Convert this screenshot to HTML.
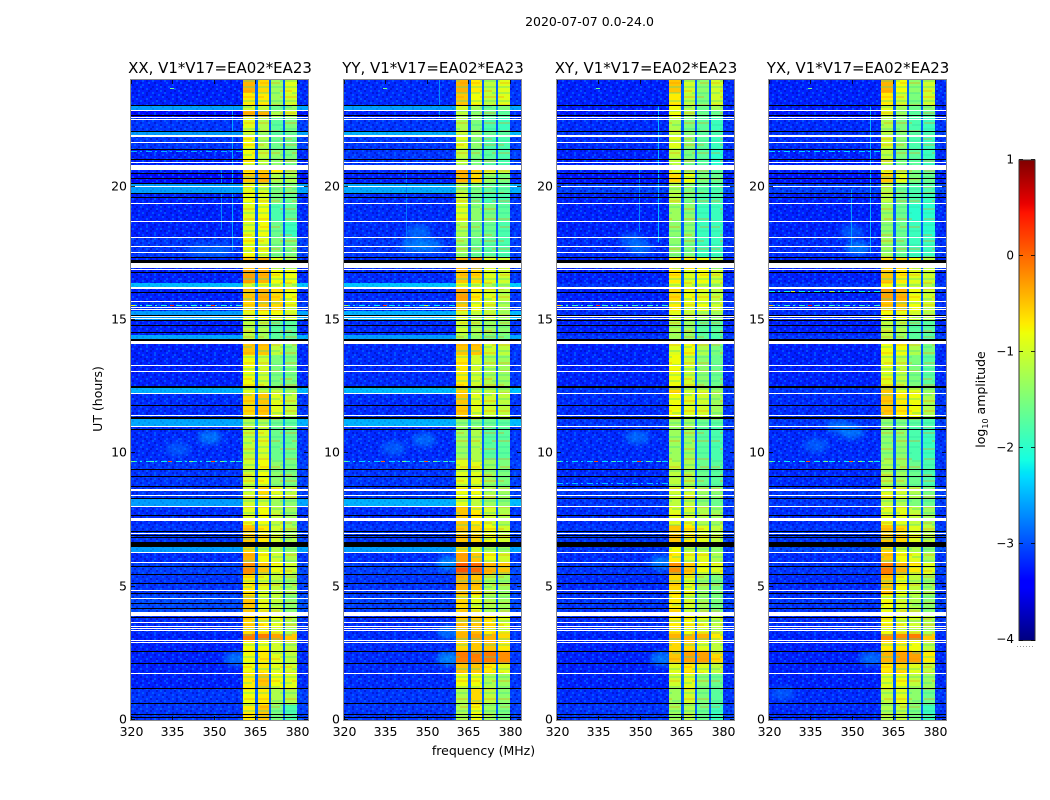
<!DOCTYPE html>
<html lang="en">
<head>
<meta charset="utf-8">
<title>2020-07-07 0.0-24.0</title>
<style>
html,body{margin:0;padding:0;background:#fff;}
svg{display:block;}
text{font-family:"DejaVu Sans","Liberation Sans",sans-serif;fill:#000;}
</style>
</head>
<body>
<svg id="chart" xmlns="http://www.w3.org/2000/svg" width="1050" height="800" viewBox="0 0 1050 800">
  <rect x="0" y="0" width="1050" height="800" fill="#fff"/>
  <text x="589.5" y="26" font-size="12.5" text-anchor="middle">2020-07-07 0.0-24.0</text>
  <text x="0" y="0" font-size="12.5" text-anchor="middle" transform="translate(102 399) rotate(-90)">UT (hours)</text>
  <text x="483.5" y="755" font-size="12.5" text-anchor="middle">frequency (MHz)</text>
  <text x="0" y="0" font-size="12.5" text-anchor="middle" transform="translate(985 399.5) rotate(-90)">log<tspan font-size="8" dy="3">10</tspan><tspan dy="-3"> amplitude</tspan></text>
  <defs>
    <filter id="blob-blur" x="-60%" y="-60%" width="220%" height="220%"><feGaussianBlur stdDeviation="3"/></filter>
  </defs>
</svg>
<script>
// ---------- data: UT boundaries of the time segments (hours) ----------
const utEdges = [24,23.5125,23.025,22.8375,22.575,22.05,21.9375,21.4125,20.8125,20.475,20.1,19.725,19.35,18.675,18.075,17.325,16.9125,16.3875,16.2375,15.675,15.3375,15,14.4375,14.2125,13.6875,12.525,12.2625,11.325,10.9875,9.75,8.7375,8.2875,7.9875,7.3125,6.4875,6.3,5.8875,5.4375,4.6875,4.05,3.225,3,2.55,2.1375,1.725,1.1625,0.5625,0];
// frequency channel boundaries (MHz) and what each channel reads from
const channelEdges = [320,360.5,365,365.8,369.8,370.6,375,375.7,380,384];
const channelKinds = ['bg',0,'gap',1,'gap',2,'gap',3,'out'];
// tick labels
const xTicks = [320,335,350,365,380];
const yTicks = [0,5,10,15,20];
const colorTicks = [1,0,-1,-2,-3,-4];
const polarisations = ['XX','YY','XY','YX'];
const gapLevel = [-2.9,-2.9,-2.9,-2.9];

// log10 amplitude outside the band, one per time segment
const xxBackground = [-3.22,-3.22,-2.6,-3.32,-3.12,-2.6,-3.12,-3.22,-3.22,-3.32,-2.6,-3.22,-3.22,-3.22,-3.12,-3.22,-3.22,-2.45,-3.22,-3.12,-2.6,-3.22,-2.55,-3.22,-3.22,-2.5,-3.17,-2.55,-3.17,-3.12,-3.12,-2.6,-3.17,-3.12,-2.6,-3.17,-3.07,-3.12,-3.02,-3.17,-3.22,-3.22,-3.22,-3.22,-3.22,-3.12,-3.12];
const yyBackground = [-3.17,-3.17,-2.6,-3.22,-3.12,-2.5,-3.12,-3.12,-3.17,-3.22,-2.55,-3.17,-3.17,-3.17,-3.12,-3.17,-3.17,-2.4,-3.17,-3.12,-2.5,-3.17,-2.6,-3.17,-3.17,-2.45,-3.17,-2.5,-3.17,-3.12,-3.12,-2.5,-3.17,-3.12,-2.6,-3.17,-3.07,-3.12,-3.07,-3.17,-3.17,-3.17,-3.17,-3.17,-3.17,-3.12,-3.12];
const xyBackground = [-3.22,-3.22,-3.22,-3.27,-3.17,-3.12,-3.17,-3.22,-3.22,-3.27,-3.07,-3.22,-3.22,-3.22,-3.17,-3.22,-3.22,-3.12,-3.22,-3.17,-3.17,-3.22,-3.12,-3.22,-3.22,-3.12,-3.17,-3.12,-3.17,-3.17,-3.12,-3.12,-3.17,-3.12,-3.12,-3.17,-3.12,-3.17,-3.12,-3.17,-3.22,-3.22,-3.22,-3.22,-3.22,-3.17,-3.12];
const yxBackground = [-3.22,-3.22,-3.22,-3.27,-3.17,-3.12,-3.17,-3.22,-3.22,-3.27,-3.07,-3.22,-3.22,-3.22,-3.17,-3.22,-3.22,-3.12,-3.22,-3.17,-3.17,-3.22,-3.12,-3.22,-3.22,-3.12,-3.17,-3.12,-3.17,-3.17,-3.12,-3.12,-3.17,-3.12,-3.02,-3.17,-3.12,-3.17,-3.12,-3.17,-3.22,-3.22,-3.22,-3.22,-3.22,-3.17,-3.17];

// log10 amplitude in the four sub-bands, one row per time segment
const xxBands = [
[-0.4,-0.6,-1.3,-0.9],[-0.7,-0.7,-1.3,-1.0],[-1.0,-1.1,-1.6,-1.4],[-0.4,-0.4,-1.2,-1.0],[-0.9,-1.2,-1.7,-1.5],[-1.0,-1.3,-1.7,-1.6],[-0.8,-1.2,-1.6,-1.6],[-0.8,-1.1,-1.4,-1.5],
[-0.7,-0.6,-0.7,-1.3],[-0.5,-0.4,-1.2,-1.2],[-0.9,-1.0,-1.5,-1.5],[-0.8,-0.9,-1.5,-1.6],[-0.9,-0.8,-1.8,-1.7],[-0.9,-0.8,-1.6,-1.9],[-0.8,-0.9,-1.5,-1.5],[-0.5,-0.4,-0.9,-1.2],
[-0.3,-0.4,-0.8,-0.8],[-1.0,-0.8,-1.0,-1.1],[-0.5,-0.4,-0.6,-0.8],[-0.6,-0.5,-0.6,-0.9],[-0.9,-0.8,-0.8,-1.0],[-1.1,-1.2,-1.7,-1.7],[-1.2,-1.3,-1.7,-1.7],[-0.5,-0.5,-1.1,-1.4],
[-0.8,-1.0,-1.5,-1.5],[-0.9,-1.1,-1.1,-1.3],[-0.6,-0.5,-0.9,-1.1],[-1.2,-1.2,-1.6,-1.7],[-1.1,-0.95,-1.6,-1.6],[-1.0,-0.8,-1.4,-1.5],[-1.0,-0.6,-0.9,-1.1],[-1.0,-1.0,-1.3,-1.4],
[-0.9,-0.8,-1.1,-1.3],[-0.5,-0.7,-1.0,-1.2],[-0.6,-1.0,-1.2,-1.4],[-0.4,-0.8,-1.0,-1.2],[-0.2,-0.5,-0.8,-1.0],[-0.7,-0.9,-1.1,-1.3],[-0.5,-0.9,-1.1,-1.4],[-0.6,-0.7,-0.9,-1.2],
[-0.1,-0.1,-0.3,-0.5],[-0.8,-0.8,-1.0,-1.1],[-0.8,-0.7,-0.9,-1.1],[-0.8,-0.7,-0.9,-1.0],[-0.7,-0.5,-0.8,-0.9],[-0.8,-0.7,-1.2,-1.2],[-0.7,-0.5,-1.5,-1.8]];
const yyBands = [
[-0.4,-0.7,-1.1,-0.9],[-0.5,-0.8,-1.1,-0.9],[-1.0,-1.3,-1.6,-1.5],[-1.1,-1.4,-1.6,-1.7],[-1.2,-1.5,-1.8,-1.9],[-1.0,-1.3,-1.6,-1.7],[-0.9,-1.4,-1.8,-1.8],[-1.1,-1.5,-1.7,-1.8],
[-0.4,-0.5,-1.0,-1.1],[-0.4,-0.6,-1.3,-1.5],[-1.2,-1.5,-1.7,-1.7],[-1.0,-1.6,-1.8,-1.8],[-0.9,-1.4,-1.5,-1.7],[-1.2,-1.5,-1.6,-1.8],[-1.3,-1.6,-1.7,-1.8],[-0.4,-0.3,-0.9,-1.0],
[-0.5,-0.6,-0.9,-1.0],[-0.8,-1.0,-1.2,-1.2],[-0.3,-0.7,-0.9,-1.1],[-0.5,-0.8,-1.0,-1.2],[-1.0,-1.1,-1.1,-1.3],[-1.0,-1.2,-1.3,-1.4],[-1.3,-1.4,-1.6,-1.6],[-0.5,-0.5,-1.0,-1.1],
[-0.7,-1.0,-1.2,-1.3],[-0.6,-1.1,-1.1,-1.2],[-0.5,-0.9,-1.0,-1.1],[-1.4,-1.5,-1.6,-1.7],[-1.3,-1.2,-1.7,-1.7],[-0.9,-0.9,-1.3,-1.5],[-0.8,-0.8,-1.2,-1.3],[-0.9,-1.1,-1.3,-1.4],
[-0.5,-0.7,-1.0,-1.2],[-0.5,-0.6,-0.8,-1.0],[-0.6,-1.0,-1.2,-1.3],[-0.3,-0.5,-0.8,-1.0],[0.1,0.0,-0.4,-0.5],[-0.4,-0.5,-1.2,-1.3],[-0.6,-0.9,-1.2,-1.3],[-0.5,-0.5,-0.7,-0.9],
[-0.4,-0.3,-0.4,-0.6],[-0.6,-0.5,-0.5,-0.7],[-0.1,-0.1,-0.1,-0.2],[-0.5,-0.5,-0.7,-0.9],[-0.8,-0.8,-1.2,-1.3],[-1.2,-0.6,-1.1,-1.4],[-1.2,-0.8,-1.3,-1.5]];
const xyBands = [
[-0.5,-1.0,-1.4,-1.0],[-0.7,-1.1,-1.5,-1.0],[-0.8,-1.2,-1.6,-1.3],[-0.8,-1.2,-1.6,-1.6],[-1.2,-1.5,-1.7,-1.9],[-1.0,-1.4,-1.7,-1.8],[-0.9,-1.4,-1.7,-1.9],[-1.1,-1.5,-1.7,-2.0],
[-0.9,-1.4,-1.6,-1.7],[-0.6,-0.8,-1.5,-1.6],[-1.2,-1.5,-1.7,-1.8],[-1.1,-1.5,-1.8,-1.8],[-1.3,-1.4,-1.9,-1.9],[-1.4,-1.4,-1.9,-1.9],[-1.4,-1.5,-1.9,-1.9],[-0.7,-0.7,-0.8,-1.2],
[-0.7,-0.9,-0.8,-1.0],[-0.9,-1.0,-1.0,-1.2],[-0.6,-0.8,-0.9,-1.1],[-0.7,-0.9,-0.8,-1.0],[-0.9,-1.1,-1.3,-1.3],[-1.2,-1.3,-1.7,-1.7],[-1.3,-1.4,-1.7,-1.8],[-0.9,-0.8,-1.2,-1.5],
[-0.8,-1.0,-1.4,-1.6],[-0.6,-1.0,-1.0,-1.3],[-0.8,-0.9,-1.0,-1.3],[-1.3,-1.3,-1.6,-1.7],[-1.3,-1.3,-1.7,-1.8],[-1.1,-1.2,-1.6,-1.7],[-1.0,-1.0,-1.3,-1.4],[-1.1,-1.1,-1.4,-1.6],
[-0.9,-1.0,-1.2,-1.3],[-0.5,-0.7,-0.9,-1.1],[-0.8,-1.1,-1.2,-1.4],[-0.7,-0.9,-0.9,-1.2],[-0.2,-0.5,-0.8,-0.9],[-0.6,-0.9,-1.3,-1.5],[-0.7,-1.0,-1.3,-1.5],[-0.7,-0.8,-0.9,-1.1],
[-0.4,-0.4,-0.4,-0.7],[-0.6,-0.6,-0.9,-1.1],[-0.5,-0.3,-0.3,-0.6],[-0.9,-0.7,-0.9,-1.1],[-1.0,-0.9,-1.4,-1.6],[-1.3,-1.0,-1.5,-1.7],[-1.3,-1.2,-1.6,-1.9]];
const yxBands = [
[-0.4,-0.8,-1.4,-1.0],[-0.7,-1.0,-1.5,-1.0],[-0.9,-1.3,-1.6,-1.4],[-0.9,-1.3,-1.7,-1.7],[-1.2,-1.5,-1.8,-1.9],[-1.1,-1.4,-1.7,-1.8],[-1.0,-1.4,-1.8,-1.9],[-1.1,-1.5,-1.7,-1.9],
[-0.9,-1.2,-1.5,-1.7],[-0.5,-0.9,-1.5,-1.6],[-1.2,-1.6,-1.8,-1.8],[-1.1,-1.6,-1.8,-1.9],[-1.3,-1.6,-2.0,-2.0],[-1.4,-1.6,-1.9,-2.0],[-1.3,-1.6,-1.9,-1.9],[-0.6,-0.6,-0.8,-1.1],
[-0.5,-0.7,-0.9,-1.0],[-0.8,-0.9,-1.0,-1.2],[-0.3,-0.4,-0.8,-1.0],[-0.5,-0.5,-0.8,-1.0],[-0.8,-0.9,-1.0,-1.2],[-1.1,-1.2,-1.7,-1.7],[-1.2,-1.4,-1.7,-1.8],[-0.8,-0.8,-1.2,-1.5],
[-0.9,-1.1,-1.5,-1.7],[-0.5,-0.9,-0.9,-1.3],[-0.5,-0.7,-0.8,-1.2],[-1.4,-1.5,-1.7,-1.8],[-1.4,-1.4,-1.8,-1.9],[-1.2,-1.3,-1.6,-1.8],[-0.9,-1.0,-1.2,-1.5],[-1.1,-1.2,-1.5,-1.6],
[-0.9,-0.9,-1.1,-1.3],[-0.5,-0.6,-0.9,-1.1],[-0.6,-1.0,-1.2,-1.4],[-0.5,-0.8,-0.9,-1.2],[-0.1,-0.4,-0.7,-0.9],[-0.5,-0.8,-1.1,-1.3],[-0.8,-1.0,-1.2,-1.4],[-0.8,-0.9,-1.0,-1.2],
[-0.2,-0.2,-0.1,-0.5],[-0.7,-0.7,-0.8,-1.1],[-0.4,-0.3,-0.3,-0.7],[-0.7,-0.6,-0.9,-1.1],[-0.9,-0.8,-1.1,-1.3],[-1.1,-0.9,-1.4,-1.6],[-1.2,-1.1,-1.5,-1.9]];
const backgroundSeries = [xxBackground,yyBackground,xyBackground,yxBackground];
const bandSeries = [xxBands,yyBands,xyBands,yxBands];

// flagged integrations: [UT at the upper edge, duration in hours]
const maskedRows = [[22.875,0.0375],[22.6125,0.0375],[22.5375,0.0375],[21.9375,0.075],[21.675,0.0375],[20.925,0.0375],[20.8125,0.1875],[20.025,0.0375],[19.3875,0.0375],[18.7125,0.0375],[18.1125,0.0375],[17.775,0.0375],[17.55,0.0375],[17.1375,0.1875],[16.9125,0.0375],[16.2375,0.075],[15.7125,0.0375],[15.4875,0.0375],[15.4125,0.0375],[15.15,0.0375],[15.075,0.0375],[14.2125,0.1125],[13.3125,0.0375],[13.0875,0.0375],[12.2625,0.0375],[11.4375,0.0375],[11.025,0.0375],[8.6625,0.075],[8.4375,0.0375],[8.025,0.0375],[7.575,0.1125],[7.0125,0.0375],[6.3,0.0375],[5.925,0.0375],[4.875,0.0375],[4.575,0.0375],[4.05,0.15],[3.675,0.0375],[3.525,0.0375],[3.45,0.0375],[3.375,0.0375],[3.0,0.0375],[2.925,0.0375],[1.7625,0.0375]];
const zeroRows = [[23.0625,0.0375],[22.6875,0.0375],[22.0875,0.0375],[21.4125,0.0375],[21.0375,0.0375],[20.5125,0.0375],[20.325,0.0375],[20.1375,0.0375],[19.7625,0.0375],[19.6125,0.0375],[17.3625,0.0375],[17.25,0.1125],[16.8,0.0375],[16.05,0.0375],[15.1875,0.0375],[15,0.0375],[14.8125,0.0375],[14.55,0.0375],[14.2875,0.075],[12.525,0.075],[11.8125,0.0375],[11.3625,0.075],[10.9125,0.0375],[9.4125,0.0375],[9.15,0.0375],[8.775,0.0375],[8.325,0.0375],[7.6875,0.0375],[7.0875,0.0375],[6.9375,0.0375],[6.8625,0.0375],[6.675,0.1875],[5.775,0.0375],[5.475,0.0375],[5.1375,0.0375],[4.7625,0.0375],[4.3875,0.0375],[4.2,0.0375],[3.8625,0.0375],[2.5875,0.0375],[2.1375,0.0375],[1.2,0.056],[0.6375,0.0375],[0.225,0.0375],[0.1125,0.0375]];

// diffuse patches in the background: panel index, UT, MHz, log10 amplitude
const blobPanel = [0,0,0,0,0,1,1,1,1,1,1,1,1,2,2,2,2,2,3,3,3,3,3,3,3];
const blobUT = [10.6,10.15,17.6,17.6,2.3,10.5,10.2,17.8,17.8,18.3,2.3,3.3,5.9,10.6,18.0,17.7,2.3,5.9,10.8,11.0,10.3,17.7,18.3,2.3,1.0];
const blobFreq = [348.5,337,345,352,358,349,338,345,351,347,358,358,358,349,347,350,358,358,350,345,337,352,350,357,325];
const blobLevel = [-2.55,-2.8,-2.8,-2.75,-2.55,-2.65,-2.75,-2.55,-2.55,-2.65,-2.4,-2.6,-2.4,-2.65,-2.75,-2.65,-2.5,-2.5,-2.55,-2.65,-2.75,-2.5,-2.75,-2.6,-2.8];

// low-level dashed interference rows spanning the background: panel index, UT, log10 amplitude
const streakPanel = [0,1,2,3,0,1,2,3,0,3,2,3];
const streakUT = [9.71,9.71,9.71,9.71,15.55,15.55,15.55,15.55,21.35,21.35,8.9,16.1];
const streakLevel = [-2.2,-2.3,-2.3,-2.2,-2.0,-2.2,-1.9,-1.9,-2.5,-2.3,-2.4,-2.2];

// narrow interference hits: panel index, UT, MHz, log10 amplitude
const rfiPanel = [0,0,0,0,0,0,0,1,1,1,1,1,1,2,2,2,2,2,2,3,3,3,3,3,3,0,0,0,1,1,1,2,2,3,3,3,3,0,1,2,3];
const rfiUT = [9.71,9.71,9.71,9.71,9.71,9.71,9.71,9.71,9.71,9.71,9.71,9.71,9.71,9.71,9.71,9.71,9.71,9.71,9.71,9.71,9.71,9.71,9.71,9.71,9.71,15.55,15.55,15.55,15.55,15.55,15.55,15.55,15.55,15.55,15.55,16.1,16.1,23.7,23.7,23.7,23.7];
const rfiFreq = [320,327,333.5,341,349,352,356,320,333.5,341,349,352,356,320,333.5,340,349,352,356,320,333.5,340,349,352,356,320,334,349,320,334,349,320,334,320,334,328,342,334,334,334,334];
const rfiLevel = [-1.6,-1.9,0.1,-1.5,0.2,-1.6,-1.8,-1.7,0.0,-1.6,0.1,-1.6,-1.8,-1.7,0.1,-1.8,0.2,-1.7,-1.8,-1.6,0.1,-1.5,0.1,-1.4,-1.6,-0.8,0.3,0.3,-1.2,0.2,-1.0,-0.5,0.3,-0.4,0.4,-1.0,-1.2,-1.6,-1.6,-1.7,-1.6];

// short vertical interference tracks: panel index, MHz, UT top, UT bottom, log10 amplitude
const trackPanel = [0,0,1,2,2,3,3,1];
const trackFreq = [356.5,352.5,354.5,356.5,349.5,356.5,349.5,342.5];
const trackTop = [23,20.6,24,23,20.9,23,19.9,20.9];
const trackBottom = [17.6,18.4,22.6,17.9,18.3,17.5,17.7,17.5];
const trackLevel = [-2.55,-2.7,-2.7,-2.45,-2.7,-2.5,-2.6,-2.8];

// hand-laid texture tile for the receiver noise in the background channels
const noiseTile = [
"..d.l..d...l.d..l...d.l..d..l.",
"l...d...l.d...l..d.....l.d...d",
".d.l..d....l..d...l.d.....l...",
"...d.l..d.l.....d...l.d.l...d.",
"d.l....d...d.l.d..l......d.l..",
"..d..l...l....d...d.l.d....d.l",
"l.....d.d..l.d..l.....l..d....",
".d.l.....l...d...d.l.d....l.d.",
"...d..l.d..d...l.....l.d.....l",
"l.d.....l....l.d..d.....d.l.d.",
"..l.d.d...l.d.....l.d.l.....d.",
"d....l...d....d.l....d...l.d..",
".l.d...l...d.l...d.l...d....l.",
"...l.d...d...l.d.....d..l.d...",
"d.....l.d.l.....d.l.l.....d.l.",
".l.d.d.....d.l.d....d.d.l.....",
"....l..d.l...d...l.....l..d.d.",
"d.l.....d..l...d.l.d.l.....l..",
"..d.l.d...d..l.......d..d.l..d",
"l.....l.d...d..d.l.d...l.....l"];

// hand-laid streak tile for fine time structure inside the band: o warmer, g cooler
const streakTile = [
"oooooooooooo........",
"....................",
"gggggggggggggggggggg",
"....................",
"......oooooooooooooo",
"gggggg..............",
"....................",
"........gggggggggggg",
"oooooooo............",
"....................",
"gggggggggggggggg....",
"....................",
"....................",
"..oooooooooooooo....",
"gg..............gggg",
"....................",
"gggggggggg..........",
"..........oooooooooo",
"....................",
"gggggggggggggggggggg",
"....................",
"oooooo..............",
"......gggggggggggggg",
"...................."];

// ---------- scales and layout ----------
const NS = 'http://www.w3.org/2000/svg';
const svg = document.getElementById('chart');
const defs = svg.querySelector('defs');
const panelLeft = [131,344,557,769];
const panelWidth = 177, panelTop = 80, panelBottom = 720;
const freqMin = 320, freqMax = 384, utMin = 0, utMax = 24;
const cbLeft = 1019, cbRight = 1035, cbTop = 160, cbBottom = 640.5, vMin = -4, vMax = 1;

function xScale(panel, f){ return panelLeft[panel] + (f - freqMin) / (freqMax - freqMin) * panelWidth; }
function yScale(ut){ return panelBottom - (ut - utMin) / (utMax - utMin) * (panelBottom - panelTop); }
function cbScale(v){ return cbBottom - (v - vMin) / (vMax - vMin) * (cbBottom - cbTop); }
function interp(stops, t){
  for(let i = 1; i < stops.length; i++){
    if(t <= stops[i][0]){
      const a = stops[i-1], b = stops[i];
      return a[1] + (b[1]-a[1]) * (t-a[0]) / (b[0]-a[0]);
    }
  }
  return stops[stops.length-1][1];
}
const jetR = [[0,0],[0.35,0],[0.66,1],[0.89,1],[1,0.5]];
const jetG = [[0,0],[0.125,0],[0.375,1],[0.64,1],[0.91,0],[1,0]];
const jetB = [[0,0.5],[0.11,1],[0.34,1],[0.65,0],[1,0]];
function colorOf(v){
  const t = Math.max(0, Math.min(1, (v - vMin) / (vMax - vMin)));
  return 'rgb(' + Math.round(interp(jetR,t)*255) + ',' + Math.round(interp(jetG,t)*255) + ',' + Math.round(interp(jetB,t)*255) + ')';
}
function make(tag, parent, props){
  const el = document.createElementNS(NS, tag);
  for(const k in props){ el.setAttribute(k, props[k]); }
  parent.appendChild(el);
  return el;
}

// ---------- texture patterns ----------
const noisePattern = make('pattern', defs, {id:'noise', x:0, y:0, width:noiseTile[0].length*2, height:noiseTile.length*2, patternUnits:'userSpaceOnUse'});
noiseTile.forEach((row, r) => {
  row.split('').forEach((ch, c) => {
    if(ch === '.') return;
    make('rect', noisePattern, {x:c*2, y:r*2, width:2, height:2, fill: ch === 'd' ? '#0000a0' : '#0078ff', 'fill-opacity': ch === 'd' ? 0.42 : 0.55});
  });
});
const streakPattern = make('pattern', defs, {id:'band-streaks', x:0, y:0, width:streakTile[0].length*2, height:streakTile.length*2, patternUnits:'userSpaceOnUse'});
streakTile.forEach((row, r) => {
  row.split('').forEach((ch, c) => {
    if(ch === '.') return;
    make('rect', streakPattern, {x:c*2, y:r*2, width:2, height:2, fill: ch === 'o' ? '#ff8c00' : '#30e0a0', 'fill-opacity': ch === 'o' ? 0.28 : 0.3});
  });
});

// ---------- panels ----------
polarisations.forEach((pol, p) => {
  const key = pol.toLowerCase();
  const left = panelLeft[p];

  const panel = make('g', svg, {});
  
  

  const clip = make('clipPath', defs, {id:'bg-clip-' + p});
  make('rect', clip, {x:xScale(p,320), y:panelTop, width:xScale(p,360.5)-xScale(p,320), height:panelBottom-panelTop});

  // heatmap cells
  const cells = make('g', panel, {'shape-rendering':'crispEdges'});
  
  
  for(let s = 0; s < utEdges.length - 1; s++){
    const y0 = Math.round(yScale(utEdges[s])), y1 = Math.round(yScale(utEdges[s+1]));
    const bg = backgroundSeries[p][s];
    for(let c = 0; c < channelKinds.length; c++){
      const kind = channelKinds[c];
      let v;
      if(kind === 'bg') v = bg;
      else if(kind === 'out') v = bg + 0.05;
      else if(kind === 'gap') v = Math.max(bg, gapLevel[p]);
      else v = bandSeries[p][s][kind];
      const x0 = Math.round(xScale(p, channelEdges[c])), x1 = Math.round(xScale(p, channelEdges[c+1]));
      const cell = make('rect', cells, {x:x0, y:y0, width:x1-x0, height:y1-y0, fill:colorOf(v)});
      
      
    }
    // receiver noise on the out-of-band channels, much fainter in the bright rows
    const noiseStrength = bg < -2.8 ? 1 : 0.3;
    const noiseMain = make('rect', cells, {x:xScale(p,320), y:y0, width:xScale(p,360.5)-xScale(p,320), height:y1-y0, fill:'url(#noise)', 'fill-opacity':noiseStrength});
    
    
    const noiseEdge = make('rect', cells, {x:xScale(p,380), y:y0, width:xScale(p,384)-xScale(p,380), height:y1-y0, fill:'url(#noise)', 'fill-opacity':noiseStrength});
    
    
  }

  // fine time structure inside the four sub-bands
  for(let c = 0; c < channelKinds.length; c++){
    if(typeof channelKinds[c] !== 'number') continue;
    const x0 = Math.round(xScale(p, channelEdges[c])), x1 = Math.round(xScale(p, channelEdges[c+1]));
    const streaks = make('rect', panel, {x:x0, y:panelTop, width:x1-x0, height:panelBottom-panelTop, fill:'url(#band-streaks)', 'shape-rendering':'crispEdges'});
    
    
  }

  // diffuse patches
  const blobs = make('g', panel, {'clip-path':'url(#bg-clip-' + p + ')'});
  
  
  blobPanel.forEach((bp, i) => {
    if(bp !== p) return;
    const blob = make('ellipse', blobs, {cx:xScale(p, blobFreq[i]), cy:yScale(blobUT[i]), rx:12, ry:7, fill:colorOf(blobLevel[i]), 'fill-opacity':0.55, filter:'url(#blob-blur)'});
    
    
  });

  // interference tracks and hits
  const rfi = make('g', panel, {'shape-rendering':'crispEdges'});
  
  
  trackPanel.forEach((tp, i) => {
    if(tp !== p) return;
    const track = make('rect', rfi, {x:Math.round(xScale(p, trackFreq[i])), y:yScale(trackTop[i]), width:1, height:yScale(trackBottom[i])-yScale(trackTop[i]), fill:colorOf(trackLevel[i])});
    
    
  });
  streakPanel.forEach((sp, i) => {
    if(sp !== p) return;
    const sy = Math.round(yScale(streakUT[i])) + 0.5;
    const streak = make('line', rfi, {x1:xScale(p,320), x2:xScale(p,360.5), y1:sy, y2:sy, stroke:colorOf(streakLevel[i]), 'stroke-width':1, 'stroke-dasharray':'6 3 2 4'});
    
    
  });
  rfiPanel.forEach((rp, i) => {
    if(rp !== p) return;
    const hit = make('rect', rfi, {x:Math.round(xScale(p, rfiFreq[i])), y:Math.round(yScale(rfiUT[i])), width:4, height:1, fill:colorOf(rfiLevel[i])});
    
    
  });

  // flagged rows
  const flags = make('g', panel, {'shape-rendering':'crispEdges'});
  
  
  zeroRows.forEach(r => {
    const y0 = Math.round(yScale(r[0])), y1 = Math.round(yScale(r[0]-r[1]));
    const row = make('rect', flags, {x:left, y:y0, width:panelWidth, height:Math.max(1,y1-y0), fill:'#000'});
    
    
  });
  maskedRows.forEach(r => {
    const y0 = Math.round(yScale(r[0])), y1 = Math.round(yScale(r[0]-r[1]));
    const row = make('rect', flags, {x:left, y:y0, width:panelWidth, height:Math.max(1,y1-y0), fill:'#fff'});
    
    
  });

  // frame
  const frame = make('rect', panel, {x:left-0.5, y:panelTop-0.5, width:panelWidth+1, height:panelBottom-panelTop+1, fill:'none', stroke:'#8c8c8c', 'stroke-width':1});
  
  

  // x ticks
  xTicks.forEach(t => {
    const x = Math.round(xScale(p, t)) + 0.5;
    const bottomTick = make('line', panel, {x1:x, x2:x, y1:panelBottom, y2:panelBottom-4, stroke:'#000', 'stroke-width':0.8});
    
    
    const topTick = make('line', panel, {x1:x, x2:x, y1:panelTop, y2:panelTop+4, stroke:'#000', 'stroke-width':0.8});
    
    
    const label = make('text', panel, {x:x, y:736, 'font-size':12.5, 'text-anchor':'middle'});
    
    
    label.textContent = t;
  });

  // y ticks
  yTicks.forEach(t => {
    const y = Math.round(yScale(t)) - 0.5;
    const leftTick = make('line', panel, {x1:left, x2:left+4, y1:y, y2:y, stroke:'#000', 'stroke-width':0.8});
    
    
    const rightTick = make('line', panel, {x1:left+panelWidth, x2:left+panelWidth-4, y1:y, y2:y, stroke:'#000', 'stroke-width':0.8});
    
    
    const label = make('text', panel, {x:left-4, y:y+4, 'font-size':12.5, 'text-anchor':'end'});
    
    
    label.textContent = t;
  });

  // title
  const title = make('text', panel, {x:left+panelWidth/2+0.5, y:73, 'font-size':14.95, 'text-anchor':'middle'});
  
  
  title.textContent = pol + ', V1*V17=EA02*EA23';
});

// ---------- colour bar ----------
const colorbar = make('g', svg, {});


const cbRamp = make('g', colorbar, {'shape-rendering':'crispEdges'});


for(let py = cbTop; py < cbBottom; py++){
  const v = vMin + (cbBottom - py - 0.5) / (cbBottom - cbTop) * (vMax - vMin);
  const strip = make('rect', cbRamp, {x:cbLeft, y:py, width:cbRight-cbLeft, height:1, fill:colorOf(v)});
  
  
}
const cbFrame = make('rect', colorbar, {x:cbLeft, y:cbTop, width:cbRight-cbLeft, height:cbBottom-cbTop, fill:'none', stroke:'#333', 'stroke-width':1});


colorTicks.forEach(t => {
  const y = Math.round(cbScale(t)) - 0.5;
  const tickL = make('line', colorbar, {x1:cbLeft, x2:cbLeft+4, y1:y, y2:y, stroke:'#000', 'stroke-width':0.8});
  
  
  const tickR = make('line', colorbar, {x1:cbRight, x2:cbRight-4, y1:y, y2:y, stroke:'#000', 'stroke-width':0.8});
  
  
  const label = make('text', colorbar, {x:1014, y:Math.min(y+4, 643), 'font-size':12, 'text-anchor':'end'});
  
  
  label.textContent = String(t).replace('-', '\u2212');
});
const cbDots = make('line', colorbar, {x1:1017, x2:1035, y1:646.5, y2:646.5, stroke:'#999', 'stroke-width':1, 'stroke-dasharray':'1 2'});


</script>
</body>
</html>
